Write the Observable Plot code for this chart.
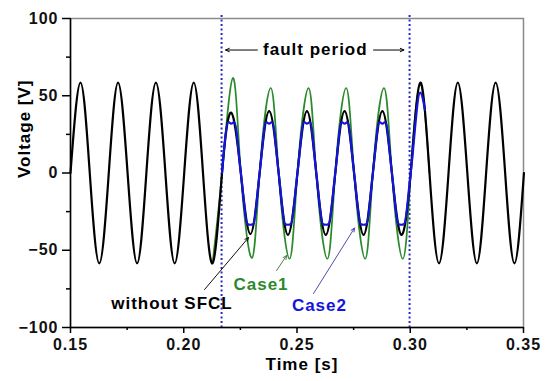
<!DOCTYPE html>
<html>
<head>
<meta charset="utf-8">
<script src="https://cdn.jsdelivr.net/npm/d3@7"></script>
<script src="https://cdn.jsdelivr.net/npm/@observablehq/plot@0.6"></script>
<style>
  body { margin: 0; background: #fff; }
  #chart svg text { letter-spacing: 1px; }
</style>
</head>
<body>
<div id="chart"></div>
<script>
// ---- Data ----
// Curve "without SFCL": zero crossings and extrema (time in s, voltage in V)
const noSfclTime = [
  0.1500, 0.1544, 0.1585, 0.1627, 0.1669, 0.1710, 0.1752, 0.1794, 0.1835, 0.1877,
  0.1919, 0.1960, 0.2002, 0.2044, 0.2085, 0.2127, 0.2169, 0.2210, 0.2252, 0.2294,
  0.2335, 0.2377, 0.2419, 0.2460, 0.2502, 0.2544, 0.2585, 0.2627, 0.2669, 0.2710,
  0.2752, 0.2794, 0.2835, 0.2877, 0.2919, 0.2960, 0.3002, 0.3044, 0.3085, 0.3127,
  0.3169, 0.3210, 0.3252, 0.3294, 0.3335, 0.3377, 0.3419, 0.3460, 0.3502
];
const noSfclVolt = [
  0, 58.5, 0, -58.5, 0, 58.5, 0, -58.5, 0, 58.5,
  0, -58.5, 0, 58.5, 0, -58.5, 0, 39, 0, -39.5,
  0, 40, 0, -40, 0, 40, 0, -40, 0, 40,
  0, -40, 0, 40, 0, -40, 0, 58.5, 0, -58.5,
  0, 58.5, 0, -58.5, 0, 58.5, 0, -58.5, 0
];

// Curve "Case1" (green) during the fault
const case1Time = [
  0.2127, 0.2169, 0.2217, 0.2252, 0.2301, 0.2335, 0.2384, 0.2419, 0.2467, 0.2502,
  0.2551, 0.2585, 0.2634, 0.2669, 0.2717, 0.2752, 0.2801, 0.2835, 0.2884, 0.2919,
  0.2967, 0.3002, 0.3044, 0.3085
];
const case1Volt = [
  -58.5, 0, 61.5, 0, -55, 0, 55, 0, -55.5, 0,
  55, 0, -55.5, 0, 55, 0, -55.5, 0, 55, 0,
  -55.5, 0, 57, 0
];

// Curve "Case2" (blue) during the fault: flattened tops and bottoms
const case2Time = [
  0.2169, 0.2197, 0.2210, 0.2223, 0.2252, 0.2281, 0.2294, 0.2307, 0.2335,
  0.2364, 0.2377, 0.2390, 0.2419, 0.2447, 0.2460, 0.2473, 0.2502,
  0.2531, 0.2544, 0.2557, 0.2585, 0.2614, 0.2627, 0.2640, 0.2669,
  0.2697, 0.2710, 0.2723, 0.2752, 0.2781, 0.2794, 0.2807, 0.2835,
  0.2864, 0.2877, 0.2890, 0.2919, 0.2947, 0.2960, 0.2973, 0.3002,
  0.3044, 0.3065
];
const case2Volt = [
  0, 33, 32, 33, 0, -33, -33.5, -33, 0,
  33, 32, 33, 0, -33, -33.5, -33, 0,
  33, 32, 33, 0, -33, -33.5, -33, 0,
  33, 32, 33, 0, -33, -33.5, -33, 0,
  33, 32, 33, 0, -33, -33.5, -33, 0,
  52, 41
];

// Fault start / end (s)
const faultTimes = [0.2167, 0.2997];

// Axis ticks
const xTicks = [0.15, 0.20, 0.25, 0.30, 0.35];
const xMinorTicks = [0.175, 0.225, 0.275, 0.325];
const yTicks = [-100, -50, 0, 50, 100];
const yMinorTicks = [-75, -25, 25, 75];

// Annotation labels (data coordinates)
const labelTexts = ["fault period", "without SFCL", "Case1", "Case2"];
const labelTime  = [0.2581, 0.1948, 0.2341, 0.2599];
const labelVolt  = [79.6, -84.2, -72.5, -85.9];

// Annotation pointers: [x1, y1, x2, y2] in data coordinates
const faultArrowLeft  = [0.2325, 79.6, 0.2185, 79.6];
const faultArrowRight = [0.2838, 79.6, 0.2972, 79.6];
const noSfclPointer   = [0.2092, -75.4, 0.2286, -41.8];
const case1Pointer    = [0.2410, -63.1, 0.2454, -53.4];
const case2Pointer    = [0.2573, -78.0, 0.2754, -35.6];

// ---- Build tables ----
const rows = (ts, vs) => ts.map((t, i) => ({t, v: vs[i]}));
const noSfcl = rows(noSfclTime, noSfclVolt);
const case1 = rows(case1Time, case1Volt);
const case2 = rows(case2Time, case2Volt);
const labels = labelTexts.map((s, i) => ({s, t: labelTime[i], v: labelVolt[i]}));
const seg = a => [{x1: a[0], y1: a[1], x2: a[2], y2: a[3]}];

const GREEN = "#2b8a2b";
const BLUE = "#1414dc";
const FONT = "'Liberation Sans', Arial, Helvetica, sans-serif";

const arrowOpts = (stroke) => ({
  x1: "x1", y1: "y1", x2: "x2", y2: "y2",
  stroke, strokeWidth: 1, headLength: 6, headAngle: 50
});

const chart = Plot.plot({
  width: 547,
  height: 381,
  marginLeft: 70,
  marginRight: 24,
  marginTop: 18,
  marginBottom: 54,
  x: {domain: [0.15, 0.35]},
  y: {domain: [-100, 100]},
  style: {fontFamily: FONT, fontSize: "16px", fontWeight: "bold", color: "#000", background: "#fff"},
  marks: [
    Plot.frame({stroke: "#8a8a8a", strokeWidth: 1.5}),
    Plot.ruleX(faultTimes, {stroke: "#2a2ac0", strokeWidth: 2, strokeDasharray: "2,2.5", insetTop: -3}),
    Plot.line(case1, {x: "t", y: "v", stroke: GREEN, strokeWidth: 1.7, curve: "natural"}),
    Plot.line(noSfcl, {x: "t", y: "v", stroke: "#000", strokeWidth: 2.2, curve: "natural"}),
    Plot.line(case2, {x: "t", y: "v", stroke: BLUE, strokeWidth: 2.2, curve: "monotone-x"}),
    Plot.ruleX([0.15], {stroke: "#000", strokeWidth: 1.5}),
    Plot.ruleY([-100], {stroke: "#000", strokeWidth: 1.5}),
    Plot.axisX({ticks: xTicks, tickFormat: d3.format(".2f"), tickSize: 6, tickPadding: 5,
      label: null, strokeWidth: 1.5, fontSize: 16, fontWeight: "bold", fill: "#111"}),
    Plot.axisX({ticks: xMinorTicks, tickFormat: () => "", tickSize: 3, label: null, strokeWidth: 1.5}),
    Plot.axisY({ticks: yTicks, tickSize: 8, tickPadding: 4, label: null, strokeWidth: 1.5,
      fontSize: 16, fontWeight: "bold", fill: "#111"}),
    Plot.axisY({ticks: yMinorTicks, tickFormat: () => "", tickSize: 4, label: null, strokeWidth: 1.5}),
    Plot.text(["Time [s]"], {frameAnchor: "bottom", dx: 5, dy: 42.5, fontSize: 17, fontWeight: "bold", fill: "#000"}),
    Plot.text(["Voltage [V]"], {frameAnchor: "left", rotate: -90, dx: -45.5, dy: 5, fontSize: 17, fontWeight: "bold", fill: "#000"}),
    Plot.arrow(seg(faultArrowLeft), arrowOpts("#000")),
    Plot.arrow(seg(faultArrowRight), arrowOpts("#000")),
    Plot.arrow(seg(noSfclPointer), arrowOpts("#111")),
    Plot.arrow(seg(case1Pointer), arrowOpts("#4d7d4d")),
    Plot.arrow(seg(case2Pointer), arrowOpts("#5548b0")),
    Plot.text(labels, {x: "t", y: "v", text: "s", fontSize: 17, fontWeight: "bold",
      fill: (d, i) => ["#000", "#000", GREEN, BLUE][i]})
  ]
});

document.getElementById("chart").appendChild(chart);
</script>
</body>
</html>
